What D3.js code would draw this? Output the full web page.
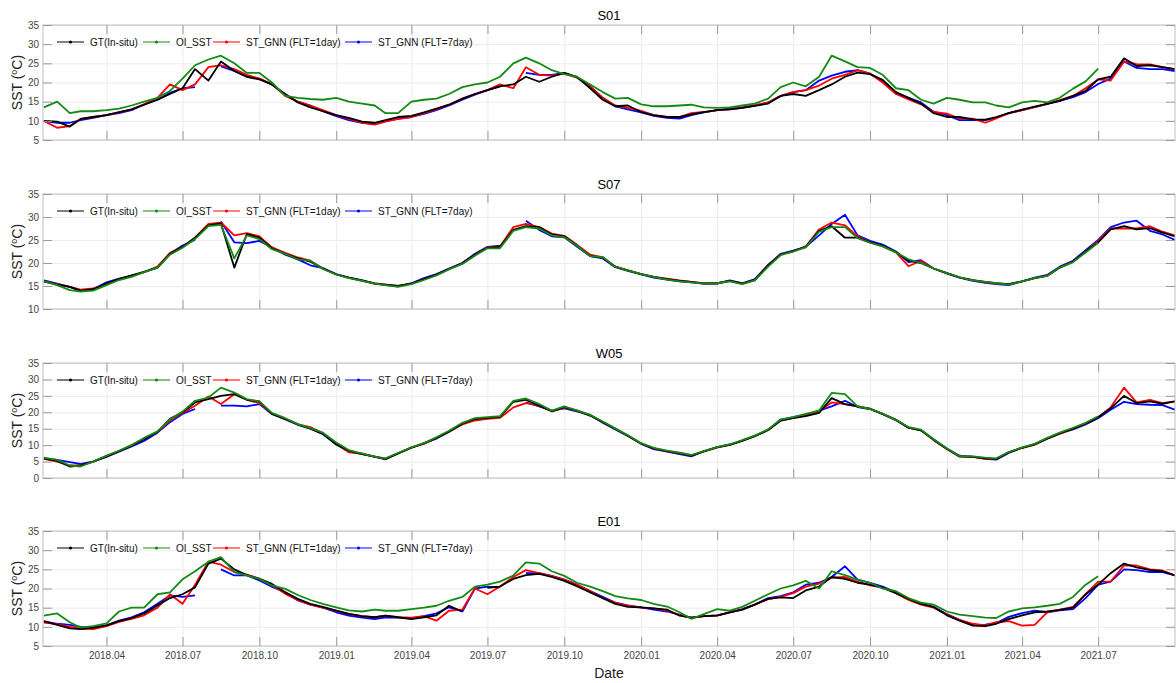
<!DOCTYPE html>
<html>
<head>
<meta charset="utf-8">
<script src="https://cdn.jsdelivr.net/npm/d3@7"></script>
<style>
  body { margin: 0; background: #fff; }
  text { font-family: "Liberation Sans", Arial, sans-serif; }
  .grid line { stroke: #ececec; }
  .grid path { display: none; }
  .ax line { stroke: #9a9a9a; }
  .ax path { display: none; }
  .ax text { fill: #444; font-size: 10px; }
</style>
</head>
<body>
<div id="chart"></div>
<script>
// sampling dates: 16 Jan 2018, then the 1st and 16th of each month, up to 1 Oct 2021
var dates = [new Date(2018, 0, 16)];
d3.timeMonth.range(new Date(2018, 1, 1), new Date(2021, 9, 1)).forEach(function (m) {
    dates.push(m, d3.timeDay.offset(m, 15));
});
dates.push(new Date(2021, 9, 1));

var stations = ["S01", "S07", "W05", "E01"];
var yDomains = [[5, 35], [10, 35], [0, 35], [5, 35]];
var seriesNames = ["GT(In-situ)", "OI_SST", "ST_GNN (FLT=1day)", "ST_GNN (FLT=7day)"];
var seriesColors = ["#000000", "#138a13", "#ff0000", "#0000ff"];

// ---- S01 ----
var s01Gt = [10, 9.8, 8.5, 10.5, 11, 11.5, 12.3, 13, 14.2, 15.5,
    17, 18.5, 23.5, 20.5, 25.5, 23, 21.5, 20.8, 19.5, 17,
    14.8, 13.5, 12.5, 11.5, 10.8, 9.8, 9.5, 10.2, 11, 11.3,
    12.2, 13.2, 14.2, 15.8, 17, 18, 19, 19.5, 21.5, 20.2,
    21.5, 22.5, 21.5, 18.5, 15.5, 13.8, 14, 12.3, 11.5, 11,
    11, 11.7, 12.3, 12.8, 13, 13.4, 13.9, 14.5, 16.5, 17,
    16.5, 18, 19.5, 21.5, 22.6, 22.2, 20.7, 17.5, 16, 14.5,
    12, 11, 11, 10.4, 10.3, 11, 12, 12.9, 13.7, 14.4,
    15.2, 16.5, 17.8, 20.8, 21.5, 26.3, 24.3, 24.5, 24, 23.5];
var s01Oi = [13.5, 15, 12, 12.5, 12.5, 12.8, 13.2, 14, 15, 16,
    17.8, 21, 24.5, 26, 27, 25, 22.5, 22.5, 20, 16.5,
    16, 15.7, 15.5, 16, 15, 14.5, 14, 12, 12, 15,
    15.5, 15.8, 17, 18.8, 19.5, 20, 21.5, 25, 26.5, 25,
    23.2, 22.2, 21.5, 19.5, 17.5, 15.8, 16, 14.3, 13.8, 13.8,
    14, 14.2, 13.5, 13.4, 13.5, 14, 14.5, 15.8, 18.8, 20,
    19, 21.5, 27, 25.5, 24, 23.8, 22, 18.5, 18, 15.5,
    14.5, 16, 15.5, 14.8, 14.8, 14, 13.5, 14.8, 15.2, 14.8,
    16, 18.4, 20.3, 23.6, null, null, null, null, null, null];
var s01St1 = [10, 8.2, 8.6, 10.5, 11, 11.5, 12.2, 13, 14.3, 16,
    19.5, 18, 19.5, 24, 24.5, 23.5, 22, 21, 19.5, 16.5,
    15, 14, 12.8, 11.5, 10.5, 9.5, 9, 9.8, 10.5, 11,
    12, 13, 14.2, 15.8, 17, 18, 19.5, 18.5, 24, 22,
    21.8, 22.3, 21.3, 19, 16, 14, 13.4, 12.6, 11.5, 11,
    11, 12, 12.3, 12.8, 13, 13.4, 14, 14.8, 16.5, 17.5,
    18, 19.2, 21, 22, 23.2, 22.3, 20, 17, 15.6, 14.3,
    12.3, 11.9, 10.6, 10.6, 9.5, 10.6, 12, 12.8, 13.6, 14.4,
    15.4, 16.5, 18.5, 20.8, 20.5, 25.5, 24.8, 24.7, 24, 23.5];
var s01St7 = [10, 9.5, 9.5, 10.2, 10.8, 11.5, 12, 12.8, 14.3, 15.5,
    17.3, 18.5, 18.8, null, 24.2, 23, 21.5, 21, 19.5, 16.8,
    15, 14, 12.5, 11.2, 10.2, 9.5, 9.2, 10, 10.5, 11,
    11.8, 12.8, 14, 15.5, 16.8, 18, 19, null, 22.5, 22,
    22, 22.5, 21.3, 19, 16, 13.8, 13, 12.2, 11.3, 10.8,
    10.6, 11.5, 12.2, 12.8, 13.2, 13.5, 14, 14.8, 16.5, 17.5,
    18, 20.5, 21.8, 22.8, 23.2, 22.3, 20.5, 17.3, 16, 14.8,
    12.4, 11.5, 10.2, 10.2, 10.2, 10.8, 12, 12.8, 13.6, 14.4,
    15.2, 16.2, 17.5, 19.6, 21, 25.5, 23.8, 23.5, 23.5, 23];

// ---- S07 ----
var s07Gt = [16, 15.3, 14.8, 14, 14.3, 15.5, 16.5, 17.3, 18.1, 19,
    22, 23.5, 25.5, 28.2, 28.6, 19, 26.3, 25.5, 23.2, 22,
    21, 20.3, 18.8, 17.5, 16.8, 16.2, 15.5, 15.3, 15, 15.5,
    16.5, 17.5, 18.7, 20, 21.8, 23.3, 23.5, 27.2, 28, 27.8,
    26.2, 25.8, 23.8, 21.5, 21.2, 19.2, 18.4, 17.6, 17, 16.5,
    16.1, 15.9, 15.5, 15.6, 16.1, 15.5, 16.3, 19.5, 21.8, 22.6,
    23.5, 27, 28, 25.5, 25.5, 24.5, 23.8, 22.4, 20.5, 20,
    18.8, 17.8, 16.9, 16.3, 15.9, 15.6, 15.4, 16, 16.7, 17.2,
    19, 20.3, 22.5, 24.5, 27.3, 28, 27.3, 27.6, 26.6, 25.8];
var s07Oi = [16, 15.2, 14.1, 13.8, 14, 15.2, 16.3, 17, 18, 19,
    21.8, 23.3, 25.2, 28, 28.3, 21, 26, 25.2, 23, 22,
    20.8, 20.5, 18.7, 17.5, 16.7, 16.1, 15.5, 15.2, 14.8, 15.4,
    16.3, 17.3, 18.6, 19.8, 21.6, 23.2, 23.2, 27, 27.8, 27.5,
    26, 25.6, 23.8, 21.5, 21.3, 19.2, 18.4, 17.6, 17, 16.4,
    16, 15.8, 15.5, 15.6, 16, 15.4, 16.2, 19.2, 21.7, 22.5,
    23.4, 26.8, 27.8, 27.8, 25.4, 24.4, 23.6, 22.3, 20.8, 20,
    18.8, 17.8, 16.9, 16.2, 15.9, 15.6, 15.3, 16, 16.7, 17.2,
    19, 20.2, 22.3, 24.4, null, null, null, null, null, null];
var s07St1 = [16, 15.4, 14.8, 14.2, 14.5, 15.3, 16.5, 17.2, 18, 19.2,
    22.2, 23.5, 25.5, 28.5, 28.8, 26, 26.5, 25.8, 23.4, 22.2,
    21.2, 20.5, 18.8, 17.5, 16.8, 16.1, 15.6, 15.3, 15, 15.5,
    16.5, 17.4, 18.7, 19.9, 21.8, 23.4, 23.6, 27.8, 28.5, 27.8,
    26.4, 25.9, 24, 21.8, 21.2, 19.2, 18.4, 17.6, 17, 16.6,
    16.2, 15.9, 15.6, 15.6, 16.1, 15.5, 16.3, 19.5, 21.9, 22.5,
    23.6, 27.3, 28.8, 28.2, 25.8, 24.5, 23.6, 22.3, 19.3, 20.5,
    18.8, 17.8, 16.9, 16.2, 15.8, 15.5, 15.4, 16, 16.7, 17.3,
    19, 20.3, 22.5, 24.8, 27.5, 27.5, 27.5, 28, 26.8, 26];
var s07St7 = [16.2, 15.5, 14.8, 14, 14.3, 15.8, 16.6, 17.2, 18, 19,
    22, 23.8, 25, null, 29, 24.5, 24.3, 24.8, 23.4, 21.8,
    20.8, 19.5, 18.9, 17.6, 16.8, 16.2, 15.5, 15.2, 14.9, 15.6,
    16.7, 17.6, 18.8, 20, 22, 23.5, 23.8, null, 29.2, 27.2,
    25.8, 25.6, 23.6, 21.5, 21, 19.1, 18.3, 17.5, 16.8, 16.4,
    16, 15.8, 15.5, 15.5, 16.2, 15.6, 16.5, 19.6, 22, 22.7,
    23.5, 26, 28.5, 30.5, 26, 24.8, 24, 22.5, 20.2, 20.6,
    18.8, 17.7, 16.8, 16.1, 15.7, 15.4, 15.2, 16, 16.8, 17.4,
    19.2, 20.5, 22.8, 25, 27.8, 28.8, 29.2, 27, 26.2, 25];

// ---- W05 ----
var w05Gt = [6, 5.2, 3.5, 3.8, 5, 6.6, 8.2, 9.8, 11.8, 14,
    18, 20, 23, 24, 25, 25.5, 23.8, 23.3, 19.5, 18,
    16.3, 15, 13.5, 10.2, 8.3, 7.3, 6.5, 5.8, 7.5, 9.2,
    10.5, 12.2, 14.2, 16.5, 18, 18.3, 18.6, 23.2, 23.8, 22,
    20.3, 21.6, 20.5, 19, 17, 15, 12.9, 10.5, 9, 8.2,
    7.6, 6.8, 8.1, 9.3, 10.1, 11.3, 12.7, 14.6, 17.5, 18.2,
    18.8, 19.8, 24.3, 22.5, 21.8, 21, 19.5, 17.7, 15.3, 14.5,
    11.6, 8.8, 6.6, 6.4, 6, 5.8, 7.8, 9.2, 10.2, 12,
    13.6, 15, 16.5, 18.5, 21.2, 25, 22.8, 23.3, 22.6, 23.3];
var w05Oi = [6.2, 5.5, 3.8, 3.5, 5, 6.8, 8.3, 10, 12.2, 14.2,
    17.8, 20.2, 23.5, 24.5, 27.5, 26, 24, 23.3, 19.8, 18.2,
    16.4, 15.2, 13.8, 10.8, 8.5, 7.4, 6.5, 6, 7.6, 9.3,
    10.6, 12.4, 14.4, 16.8, 18.2, 18.5, 18.8, 23.5, 24.2, 22.5,
    20.5, 21.8, 20.6, 19.2, 17.2, 15.1, 13, 10.6, 9.2, 8.3,
    7.7, 7, 8.2, 9.4, 10.2, 11.5, 12.9, 14.8, 17.8, 18.5,
    19.5, 20.5, 25.9, 25.5, 21.8, 21, 19.6, 17.7, 15.5, 14.7,
    11.8, 9, 6.7, 6.6, 6.2, 6, 7.9, 9.3, 10.4, 12.2,
    13.8, 15.3, 16.8, 18.8, null, null, null, null, null, null];
var w05St1 = [5.8, 5, 3.8, 3.8, 5, 6.6, 8.2, 10, 12, 14,
    17.5, 19.8, 22, 24.8, 22.5, 25.5, 23.8, 22.8, 19.5, 18,
    16.3, 15.5, 13.6, 10.5, 7.8, 7.5, 6.4, 5.8, 7.5, 9.3,
    10.4, 12.2, 14.2, 16.3, 17.5, 18, 18.3, 21.5, 22.8, 22,
    20.3, 21.4, 20.5, 19, 17, 15, 12.9, 10.5, 9, 8.1,
    7.5, 6.8, 8, 9.3, 10.1, 11.4, 12.7, 14.7, 17.5, 18.3,
    19.2, 20.3, 23, 22.5, 21.8, 21.1, 19.5, 17.7, 15.3, 14.5,
    11.6, 8.8, 6.5, 6.4, 5.8, 5.8, 7.8, 9.2, 10.1, 12,
    13.4, 15, 16.5, 18.5, 21.5, 27.5, 23, 23.8, 22.8, 23.3];
var w05St7 = [6, 5.5, 4.8, 4.3, 5, 6.4, 8, 9.6, 11.3, 13.8,
    17, 19.5, 21, null, 22, 22, 21.8, 22.5, 19.5, 17.8,
    16.2, 15, 13.3, 10.3, 8, 7.3, 6.5, 5.7, 7.5, 9.2,
    10.6, 12, 14, 16.5, 17.8, 18.2, 18.6, null, 23, 21.8,
    20.5, 21.2, 20.3, 19.2, 16.8, 14.8, 12.8, 10.4, 8.8, 8,
    7.3, 6.6, 8.2, 9.4, 10.2, 11.4, 12.8, 14.6, 17.8, 18.5,
    19.3, 20.5, 21.8, 23.5, 21.6, 21, 19.4, 17.6, 15.3, 14.5,
    11.8, 9, 6.8, 6.5, 5.8, 5.6, 7.6, 9.2, 10.3, 12,
    13.6, 14.8, 16.3, 18.2, 20.8, 23.2, 22.5, 22.3, 22.2, 20.8];

// ---- E01 ----
var e01Gt = [11.5, 10.5, 9.6, 9.4, 9.8, 10.4, 11.5, 12.3, 13.5, 15.6,
    17.5, 18.5, 20.3, 26.5, 27.8, 25, 23.5, 22.5, 21.2, 19,
    17.3, 16, 15.2, 14.2, 13.4, 12.8, 12.5, 12.9, 12.5, 12,
    12.5, 13, 15.5, 14, null, 20.2, 20.5, 22.5, 23.5, 23.8,
    23, 22, 20.6, 19, 17.5, 16, 15.2, 15.1, 14.8, 14.5,
    12.9, 12.4, 12.8, 12.9, 13.8, 14.5, 15.8, 17.3, 17.7, 17.5,
    19.5, 20.5, 23, 22.5, 21.5, 21, 20.2, 18.8, 17.3, 16,
    15.2, 13, 11.6, 10.3, 10.2, 10.8, 12, 13, 13.8, 14,
    14.4, 15, 18.5, 21, 24, 26.5, 25.5, 24.8, 24.5, 23.4];
var e01Oi = [12.9, 13.5, 11.2, 9.8, 10.2, 10.9, 14, 15, 15, 18.5,
    19, 22.4, 24.5, 27, 28.2, 24.3, 23.4, 22.5, 20.8, 19.9,
    18.3, 17, 16, 15.1, 14.3, 14, 14.5, 14.2, 14.2, 14.6,
    15, 15.5, 16.8, 17.8, 20.5, 21, 21.8, 23.4, 26.8, 26.5,
    24.5, 23.3, 21.5, 20.5, 19.3, 18, 17.4, 17, 16, 15.3,
    13.8, 12.1, 13.3, 14.6, 14.2, 15.2, 16.8, 18.5, 20, 20.8,
    22, 20, 24.5, 23.5, 22.3, 21.5, 20, 19.3, 17.5, 16.3,
    15.8, 14, 13.2, 12.8, 12.4, 12.3, 14, 14.8, 15.1, 15.5,
    16, 17.8, 21, 23.2, null, null, null, null, null, null];
var e01St1 = [11.1, 10.7, 10, 9.5, 9.4, 10.2, 11.3, 12.1, 13, 15,
    18.5, 16, 21, 27, 26.2, 24.3, 23.6, 22.6, 21, 18.6,
    17, 15.8, 15, 14.2, 13.4, 12.8, 12.5, 12.9, 12.5, 12.4,
    12.8, 11.6, 14.2, 14.5, 20, 18.5, 20.5, 23, 24.8, 24,
    23.2, 22.3, 21, 19.3, 17.5, 16.3, 15.5, 15, 14.8, 14.2,
    13.1, 12.3, 12.8, 13, 13.8, 14.5, 15.8, 17.2, 17.8, 18.8,
    20.5, 21.3, 22.8, 23, 21.8, 20.8, 20.2, 18.8, 17, 15.8,
    15, 13.2, 11.8, 10.8, 10.4, 11.2, 11.5, 10.3, 10.5, 13.8,
    14.5, 15.2, 18.5, 21.8, 21.8, 26, 26, 25, 24.7, 23.4];
var e01St7 = [11.4, 10.8, 10.5, 10, 9.8, 10.4, 11.6, 12.5, 13.8, 16,
    18.2, 17.8, 18.2, null, 25, 23.4, 23.4, 22.1, 20.5, 19,
    16.9, 15.8, 15, 13.8, 12.9, 12.4, 12, 12.5, 12.4, 12.2,
    12.8, 13.5, 15.1, 14, 20, 20.5, 20.3, null, 24, 24,
    23.3, 22.3, 21, 19.3, 17.8, 16.3, 15.6, 15.1, 14.5, 14,
    13.2, 12.4, 12.8, 13, 13.8, 14.6, 15.8, 17.5, 18, 19,
    21, 21.5, 23, 25.8, 22.3, 21.5, 20.5, 19, 17.2, 16,
    15.2, 13.3, 11.8, 10.5, 10.6, 11, 12.6, 13.6, 14.2, 13.8,
    14.3, 14.6, 17.5, 21, 21.8, 25, 24.8, 24.3, 24.3, 23.4];

var panelSeries = [
    [s01Gt, s01Oi, s01St1, s01St7],
    [s07Gt, s07Oi, s07St1, s07St7],
    [w05Gt, w05Oi, w05St1, w05St7],
    [e01Gt, e01Oi, e01St1, e01St7]
];

// layout
var width = 1176, height = 683;
var x0 = 43, x1 = 1175;
var panelTop = [25, 194, 363, 531], panelH = 115;
var legendX = [57, 143, 213, 345];
var drawOrder = [3, 2, 0, 1]; // blue, red, black, green on top

var svg = d3.select("#chart").append("svg")
    .attr("width", width)
    .attr("height", height);

var x = d3.scaleTime()
    .domain([new Date(2018, 0, 15), new Date(2021, 9, 1)])
    .range([x0, x1]);

var xTicks = d3.timeMonth.every(3).range(new Date(2018, 0, 15), new Date(2021, 8, 30));

panelSeries.forEach(function (series, p) {
    var top = panelTop[p], bottom = top + panelH;
    var y = d3.scaleLinear().domain(yDomains[p]).range([bottom, top]);
    var yTicks = d3.range(yDomains[p][0], yDomains[p][1] + 1, 5);
    var g = svg.append("g");

    // grid
    g.append("g").attr("class", "grid")
        .attr("transform", "translate(0," + bottom + ")")
        .call(d3.axisBottom(x).tickValues(xTicks).tickSize(-panelH).tickFormat(""));
    g.append("g").attr("class", "grid")
        .attr("transform", "translate(" + x0 + ",0)")
        .call(d3.axisLeft(y).tickValues(yTicks).tickSize(-(x1 - x0)).tickFormat(""));

    // lines
    g.append("clipPath").attr("id", "clip" + p)
        .append("rect").attr("x", x0).attr("y", top).attr("width", x1 - x0).attr("height", panelH);

    var line = d3.line()
        .defined(function (d) { return d != null; })
        .x(function (d, i) { return x(dates[i]); })
        .y(function (d) { return y(d); });

    drawOrder.forEach(function (s) {
        g.append("path")
            .datum(series[s])
            .attr("clip-path", "url(#clip" + p + ")")
            .attr("fill", "none")
            .attr("stroke", seriesColors[s])
            .attr("stroke-width", 1.8)
            .attr("stroke-linejoin", "round")
            .attr("d", line);
    });

    // frame
    g.append("rect")
        .attr("x", x0).attr("y", top)
        .attr("width", x1 - x0).attr("height", panelH)
        .attr("fill", "none").attr("stroke", "#bdbdbd");

    // axes with inward ticks
    var xb = g.append("g").attr("class", "ax")
        .attr("transform", "translate(0," + bottom + ")")
        .call(d3.axisBottom(x).tickValues(xTicks).tickSize(-9).tickPadding(6)
            .tickFormat(p === 3 ? d3.timeFormat("%Y.%m") : ""));
    g.append("g").attr("class", "ax")
        .attr("transform", "translate(0," + top + ")")
        .call(d3.axisTop(x).tickValues(xTicks).tickSize(-9).tickFormat(""));
    g.append("g").attr("class", "ax")
        .attr("transform", "translate(" + x0 + ",0)")
        .call(d3.axisLeft(y).tickValues(yTicks).tickSize(-9).tickPadding(4));
    g.append("g").attr("class", "ax")
        .attr("transform", "translate(" + x1 + ",0)")
        .call(d3.axisRight(y).tickValues(yTicks).tickSize(-9).tickFormat(""));

    // title
    g.append("text")
        .attr("x", (x0 + x1) / 2)
        .attr("y", top - 5)
        .attr("text-anchor", "middle")
        .style("font-size", "13px")
        .attr("fill", "#000")
        .text(stations[p]);

    // y label
    var yl = g.append("text")
        .attr("transform", "translate(22," + (top + panelH / 2) + ") rotate(-90)")
        .attr("text-anchor", "middle")
        .style("font-size", "14px")
        .attr("fill", "#222");
    yl.append("tspan").text("SST (");
    yl.append("tspan").attr("baseline-shift", "super").style("font-size", "9px").text("o");
    yl.append("tspan").text("C)");

    // legend
    var ly = top + 17;
    seriesNames.forEach(function (name, s) {
        var lx = legendX[s];
        g.append("line")
            .attr("x1", lx).attr("x2", lx + 27)
            .attr("y1", ly).attr("y2", ly)
            .attr("stroke", seriesColors[s]).attr("stroke-width", 1);
        g.append("circle")
            .attr("cx", lx + 13.5).attr("cy", ly).attr("r", 1.6)
            .attr("fill", seriesColors[s]);
        g.append("text")
            .attr("x", lx + 33).attr("y", ly + 3.5)
            .style("font-size", "10px")
            .attr("fill", "#111")
            .text(name);
    });
});

// x label
svg.append("text")
    .attr("x", (x0 + x1) / 2)
    .attr("y", 678)
    .attr("text-anchor", "middle")
    .style("font-size", "14px")
    .attr("fill", "#222")
    .text("Date");
</script>
</body>
</html>
